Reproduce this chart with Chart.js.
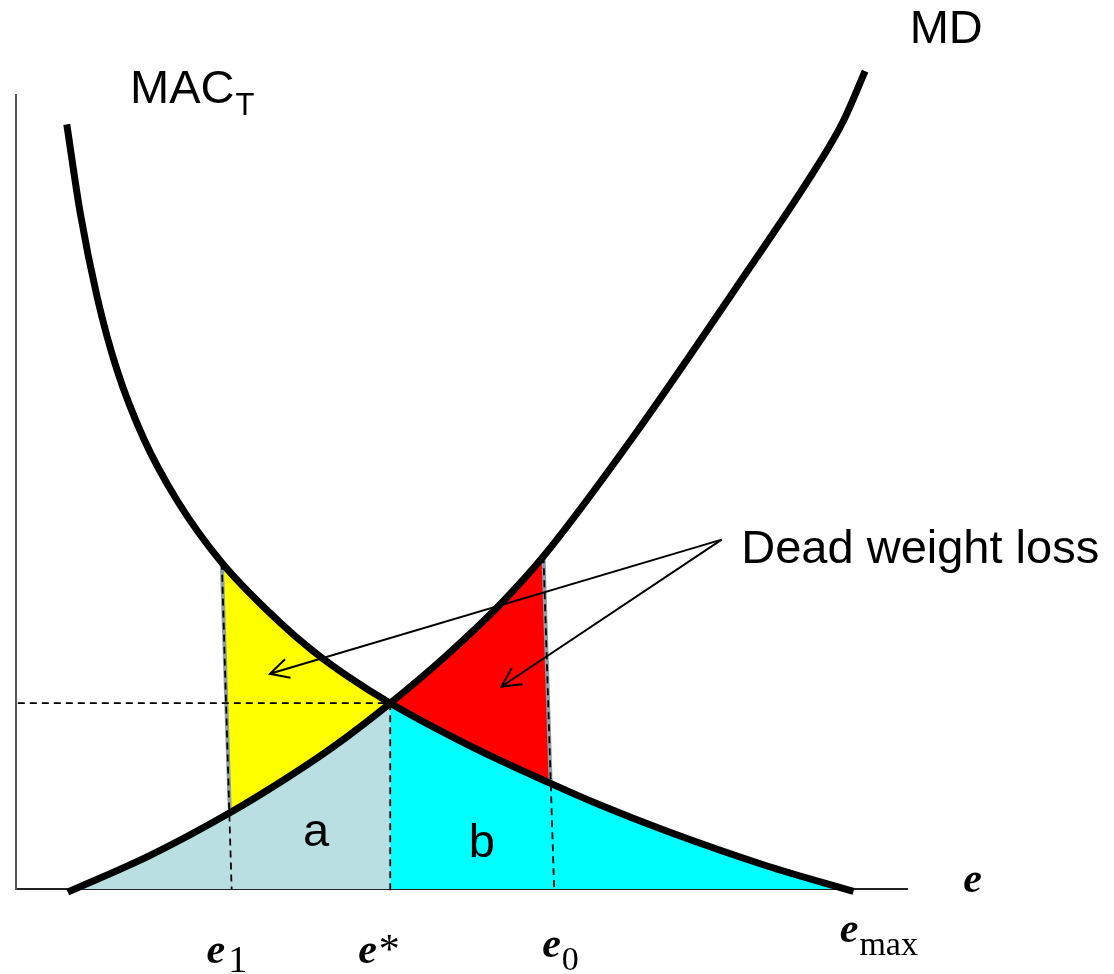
<!DOCTYPE html>
<html>
<head>
<meta charset="utf-8">
<script src="https://cdn.jsdelivr.net/npm/chart.js@4.4.1/dist/chart.umd.min.js"></script>
<style>
  html, body { margin: 0; padding: 0; background: #fff; }
  #wrap { position: relative; width: 1114px; height: 974px; }
</style>
</head>
<body>
<div id="wrap"><canvas id="dwlChart"></canvas></div>
<script>
// emissions e on x, cost / damage on y (both 0-100, arbitrary units)

// marginal abatement cost, MAC_T
const macX = [5.7, 7.2, 9.1, 11.3, 14.3, 18.1, 23.1, 29.6, 33.3, 37.2, 42, 51, 60, 65.5, 73, 84.3, 94];
const macY = [96.3, 85.2, 74.6, 65.5, 56.8, 48.9, 41.1, 33.6, 30.0, 26.8, 23.4, 18.0, 13.3, 10.6, 7.3, 2.9, -0.3];

// marginal damage, MD
const mdX = [5.8, 15, 24, 30, 35.6, 42, 48.4, 54.3, 59.2, 69.3, 80.5, 89.9, 92.8, 95.3];
const mdY = [-0.4, 4.2, 9.6, 13.7, 17.9, 23.4, 29.5, 35.8, 41.9, 57.0, 75.2, 91.0, 96.6, 103.0];

// optimum
const eStar = 42;
const priceStar = 23.4;

// curve points that close the dead weight loss areas (left: e1, right: e0)
const macCornerX = [23.1, 60];
const mdCornerX = [24, 59.2];

// marked emission levels
const tickValues = [24.2, 42, 60.4, 93.8];
const tickMain = ['e', 'e', 'e', 'e'];
const tickSub = ['1', '*', '0', 'max'];

const colA = '#b9dfe3';
const colB = '#00ffff';
const colLossLeft = '#ffff00';
const colLossRight = '#ff0000';
const colEdge = '#8d9ea6';

const SANS = '"Liberation Sans", Arial, sans-serif';
const SERIF = '"Liberation Serif", "Times New Roman", serif';

function xyPoints(xs, ys) {
    return xs.map((x, i) => ({ x, y: ys[i] }));
}

// follow a curve between two point indices using the bezier control points chart.js computed
function traceCurve(ctx, pts, from, to) {
    const step = from <= to ? 1 : -1;
    for (let i = from; i !== to; i += step) {
        const a = pts[i], b = pts[i + step];
        if (step > 0) ctx.bezierCurveTo(a.cp2x, a.cp2y, b.cp1x, b.cp1y, b.x, b.y);
        else ctx.bezierCurveTo(a.cp1x, a.cp1y, b.cp2x, b.cp2y, b.x, b.y);
    }
}

const areaShading = {
    id: 'areaShading',
    beforeDatasetsDraw(chart) {
        const ctx = chart.ctx;
        const px = v => chart.scales.x.getPixelForValue(v);
        const py = v => chart.scales.y.getPixelForValue(v);
        const macMeta = chart.getDatasetMeta(0);
        const mdMeta = chart.getDatasetMeta(1);
        macMeta.dataset.updateControlPoints(chart.chartArea, 'x');
        mdMeta.dataset.updateControlPoints(chart.chartArea, 'x');
        const mac = macMeta.data, md = mdMeta.data;

        const iMacStar = macX.indexOf(eStar), iMdStar = mdX.indexOf(eStar);
        const iMacL = macX.indexOf(macCornerX[0]), iMacR = macX.indexOf(macCornerX[1]);
        const iMdL = mdX.indexOf(mdCornerX[0]), iMdR = mdX.indexOf(mdCornerX[1]);
        const last = mac.length - 1;

        ctx.save();

        // a: under MD up to e*
        ctx.beginPath();
        ctx.moveTo(md[0].x, py(0));
        ctx.lineTo(md[0].x, md[0].y);
        traceCurve(ctx, md, 0, iMdStar);
        ctx.lineTo(px(eStar), py(0));
        ctx.closePath();
        ctx.fillStyle = colA;
        ctx.fill();

        // b: under MAC from e* on
        ctx.beginPath();
        ctx.moveTo(px(eStar), py(0));
        ctx.lineTo(mac[iMacStar].x, mac[iMacStar].y);
        traceCurve(ctx, mac, iMacStar, last);
        ctx.lineTo(mac[last].x, py(0));
        ctx.closePath();
        ctx.fillStyle = colB;
        ctx.fill();

        // dead weight loss, left of e*
        ctx.beginPath();
        ctx.moveTo(mac[iMacL].x, mac[iMacL].y);
        traceCurve(ctx, mac, iMacL, iMacStar);
        traceCurve(ctx, md, iMdStar, iMdL);
        ctx.closePath();
        ctx.fillStyle = colLossLeft;
        ctx.fill();

        // dead weight loss, right of e*
        ctx.beginPath();
        ctx.moveTo(md[iMdStar].x, md[iMdStar].y);
        traceCurve(ctx, md, iMdStar, iMdR);
        ctx.lineTo(mac[iMacR].x, mac[iMacR].y);
        traceCurve(ctx, mac, iMacR, iMacStar);
        ctx.closePath();
        ctx.fillStyle = colLossRight;
        ctx.fill();

        // grey outer edges
        ctx.strokeStyle = colEdge;
        ctx.lineWidth = 4;
        ctx.beginPath();
        ctx.moveTo(mac[iMacL].x, mac[iMacL].y);
        ctx.lineTo(md[iMdL].x, md[iMdL].y);
        ctx.moveTo(md[iMdR].x, md[iMdR].y);
        ctx.lineTo(mac[iMacR].x, mac[iMacR].y);
        ctx.stroke();

        ctx.restore();
    }
};

function drawArrow(ctx, x0, y0, x1, y1) {
    const ang = Math.atan2(y0 - y1, x0 - x1);
    const len = 21, spread = 0.48;
    ctx.beginPath();
    ctx.moveTo(x0, y0);
    ctx.lineTo(x1, y1);
    ctx.moveTo(x1 + len * Math.cos(ang + spread), y1 + len * Math.sin(ang + spread));
    ctx.lineTo(x1, y1);
    ctx.lineTo(x1 + len * Math.cos(ang - spread), y1 + len * Math.sin(ang - spread));
    ctx.stroke();
}

// placement of the e labels under the axis (pixels from tick / axis)
const tickLabelStyle = [
    { dx: -25, dy: 74, subSize: 38, subGap: 3, subDrop: 9 },
    { dx: -32, dy: 74, subSize: 42, subGap: 2, subDrop: 0 },
    { dx: -12, dy: 68, subSize: 34, subGap: 1, subDrop: 13 },
    { dx: -12, dy: 53, subSize: 34, subGap: 1, subDrop: 13 }
];

const annotations = {
    id: 'annotations',
    afterDatasetsDraw(chart) {
        const ctx = chart.ctx;
        const px = v => chart.scales.x.getPixelForValue(v);
        const py = v => chart.scales.y.getPixelForValue(v);
        ctx.save();
        ctx.fillStyle = '#000';
        ctx.textBaseline = 'alphabetic';
        ctx.textAlign = 'left';

        // dead weight loss pointers
        ctx.strokeStyle = '#000';
        ctx.lineWidth = 2;
        const ox = px(79.2), oy = py(44.0);
        drawArrow(ctx, ox, oy, px(28.5), py(27.1));
        drawArrow(ctx, ox, oy, px(54.5), py(25.5));

        ctx.font = '47px ' + SANS;
        ctx.fillText('Dead weight loss', px(81.4), py(41.0));
        ctx.fillText('MD', px(100.3), py(106.5));
        ctx.fillText('a', px(32.2), py(5.4));
        ctx.fillText('b', px(50.8), py(4.0));

        const macLeft = px(12.8), macBase = py(99.0);
        ctx.fillText('MAC', macLeft, macBase);
        const macW = ctx.measureText('MAC').width;
        ctx.font = '31px ' + SANS;
        ctx.fillText('T', macLeft + macW + 1, macBase + 12);

        // axis name
        ctx.font = 'italic bold 42px ' + SERIF;
        ctx.fillText('e', px(106.3), py(-0.4));

        // emission levels
        const axisY = py(0);
        tickValues.forEach((v, i) => {
            const s = tickLabelStyle[i];
            const left = px(v) + s.dx;
            const base = axisY + s.dy;
            ctx.font = 'italic bold 42px ' + SERIF;
            ctx.fillText(tickMain[i], left, base);
            const w = ctx.measureText(tickMain[i]).width;
            ctx.font = s.subSize + 'px ' + SERIF;
            ctx.fillText(tickSub[i], left + w + s.subGap, base + s.subDrop);
        });

        ctx.restore();
    }
};

function guide(points) {
    return {
        data: points,
        borderColor: '#000',
        borderWidth: 1.8,
        borderDash: [7, 5],
        pointRadius: 0,
        tension: 0,
        clip: false,
        order: 1
    };
}

function curve(label, xs, ys) {
    return {
        label,
        data: xyPoints(xs, ys),
        borderColor: '#000',
        borderWidth: 7,
        pointRadius: 0,
        cubicInterpolationMode: 'monotone',
        capBezierPoints: false,
        clip: false,
        order: 0
    };
}

const iMacL = macX.indexOf(macCornerX[0]);
const iMdR = mdX.indexOf(mdCornerX[1]);

new Chart(document.getElementById('dwlChart'), {
    type: 'line',
    data: {
        datasets: [
            curve('MAC_T', macX, macY),
            curve('MD', mdX, mdY),
            guide([{ x: macCornerX[0], y: macY[iMacL] }, { x: tickValues[0], y: 0 }]),
            guide([{ x: eStar, y: priceStar }, { x: eStar, y: -0.6 }]),
            guide([{ x: mdCornerX[1], y: mdY[iMdR] }, { x: tickValues[2], y: 0 }]),
            guide([{ x: 0.2, y: priceStar }, { x: eStar, y: priceStar }])
        ]
    },
    options: {
        responsive: true,
        maintainAspectRatio: false,
        animation: false,
        events: [],
        layout: { padding: { left: 16, right: 207, top: 95, bottom: 85 } },
        scales: {
            x: {
                type: 'linear', min: 0, max: 100, z: 1,
                ticks: { display: false },
                grid: { display: false, drawTicks: false },
                border: { display: true, color: '#222', width: 2 }
            },
            y: {
                type: 'linear', min: 0, max: 100,
                ticks: { display: false },
                grid: { display: false, drawTicks: false },
                border: { display: true, color: '#555', width: 2 }
            }
        },
        plugins: {
            legend: { display: false },
            tooltip: { enabled: false }
        }
    },
    plugins: [areaShading, annotations]
});
</script>
</body>
</html>
